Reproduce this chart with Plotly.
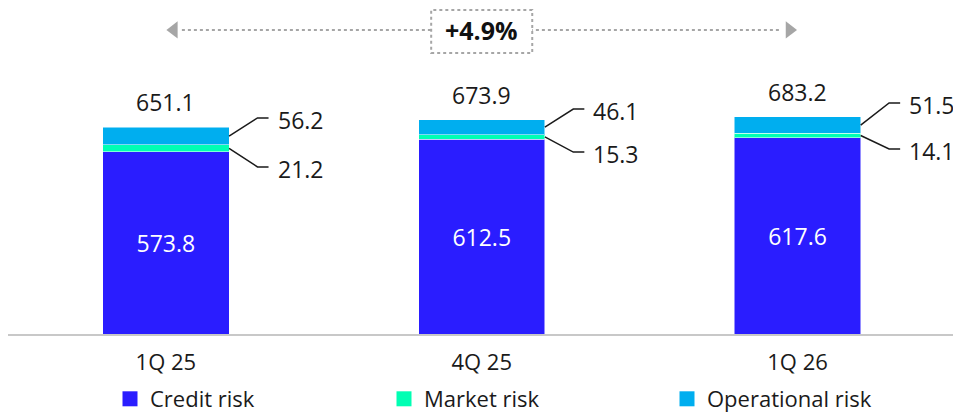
import plotly.graph_objects as go

# Data
quarters = ['1Q 25', '4Q 25', '1Q 26']
credit_risk = [573.8, 612.5, 617.6]
market_risk = [21.2, 15.3, 14.1]
operational_risk = [56.2, 46.1, 51.5]
totals = [651.1, 673.9, 683.2]
growth_label = '+4.9%'

COLORS = {
    'credit': '#2A1DFF',
    'market': '#00FFB3',
    'operational': '#00AEEF',
    'text': '#1A1A1A',
    'grey': '#A6A6A6',
    'axis': '#C8C8C8',
}
FONT = 'Open Sans, Noto Sans, sans-serif'
FS = 23

# page body adds an 8px margin, so the figure is drawn 8px smaller
W, H = 953, 408
x = list(range(len(quarters)))
BAR_W = 0.4
Y_MAX = 1026

# label offsets (layout only) for the leader-line callouts
OP_OFF = [29, 34, 44]
MKT_OFF = [48, 40, 35]

fig = go.Figure()

bar_line = dict(color='rgba(255,255,255,0.5)', width=1)
series = [
    ('Credit risk', credit_risk, COLORS['credit'], 'legend'),
    ('Market risk', market_risk, COLORS['market'], 'legend2'),
    ('Operational risk', operational_risk, COLORS['operational'], 'legend3'),
]
for name, vals, col, leg in series:
    is_credit = name == 'Credit risk'
    fig.add_trace(go.Bar(
        x=x, y=vals, name=name, width=BAR_W, showlegend=False, legendgroup=name,
        marker=dict(color=col, line=bar_line),
        texttemplate='%{y:.1f}' if is_credit else None,
        textposition='inside' if is_credit else 'none', insidetextanchor='middle',
        textfont=dict(color='white', size=FS, family=FONT),
    ))
    # legend entry with a larger square swatch
    fig.add_trace(go.Scatter(
        x=[None], y=[None], name=name, legend=leg, legendgroup=name, mode='markers',
        marker=dict(symbol='square', size=15, color=col),
    ))

annotations = []
for i in x:
    edge = i + BAR_W / 2
    op_mid = credit_risk[i] + market_risk[i] + operational_risk[i] / 2
    mkt_mid = credit_risk[i] + market_risk[i] / 2
    op_end = totals[i] + OP_OFF[i]
    mkt_end = credit_risk[i] - MKT_OFF[i]

    for y0, y1, val in [(op_mid, op_end, operational_risk[i]), (mkt_mid, mkt_end, market_risk[i])]:
        fig.add_trace(go.Scatter(
            x=[edge, edge + 0.09, edge + 0.125], y=[y0, y1, y1],
            mode='lines', line=dict(color=COLORS['text'], width=1.5),
            showlegend=False, hoverinfo='skip',
        ))
        annotations.append(dict(
            x=edge + 0.125, y=y1, xanchor='left', yanchor='middle', xshift=7, yshift=-2,
            text=f'{val:.1f}', showarrow=False, font=dict(size=FS, color=COLORS['text'], family=FONT),
        ))

    annotations.append(dict(
        x=i, y=totals[i], yanchor='middle', yshift=25, text=f'{totals[i]:.1f}',
        showarrow=False, font=dict(size=FS, color=COLORS['text'], family=FONT),
    ))

# growth arrow between first and last quarter
arrow_y = 957
head = 8 / 316
fig.add_trace(go.Scatter(
    x=[x[0] + head, x[-1] - head], y=[arrow_y, arrow_y], mode='markers',
    marker=dict(symbol=['triangle-left', 'triangle-right'], size=15, color=COLORS['grey']),
    showlegend=False, hoverinfo='skip', cliponaxis=False,
))
mid = (x[0] + x[-1]) / 2
annotations.append(dict(
    x=mid, y=arrow_y, text=f'<b>{growth_label}</b>', showarrow=False,
    font=dict(size=25, color='#111111', family=FONT),
))

shapes = [
    dict(type='line', xref='x', yref='y', x0=x[0] + 2 * head, x1=x[-1] - 2 * head,
         y0=arrow_y, y1=arrow_y, line=dict(color=COLORS['grey'], width=2, dash='dot'), layer='below'),
    dict(type='rect', xref='x', yref='paper', x0=mid - 0.16, x1=mid + 0.16, y0=0.862, y1=0.994,
         fillcolor='white', line=dict(color=COLORS['grey'], width=2, dash='dot'), layer='above'),
]

legend_style = dict(orientation='h', xref='container', yref='container', y=1 - 391 / H,
                    yanchor='middle', xanchor='left', font=dict(size=FS - 1, color=COLORS['text'], family=FONT),
                    bgcolor='rgba(0,0,0,0)', itemwidth=30)

fig.update_layout(
    barmode='stack',
    width=W, height=H,
    margin=dict(l=0, r=4, t=0, b=82),
    plot_bgcolor='white', paper_bgcolor='white',
    font=dict(family=FONT, color=COLORS['text']),
    xaxis=dict(range=[-0.5, 2.505], tickvals=x, ticktext=quarters, showgrid=False, zeroline=False,
               showline=True, linecolor=COLORS['axis'], linewidth=2,
               ticks='outside', ticklen=8, tickcolor='white', tickfont=dict(size=FS - 1, color=COLORS['text'])),
    yaxis=dict(range=[0, Y_MAX], visible=False),
    showlegend=True,
    legend=dict(legend_style, x=102 / W),
    legend2=dict(legend_style, x=376 / W),
    legend3=dict(legend_style, x=659 / W),
    annotations=annotations,
    shapes=shapes,
)

fig.write_html('out.html')
